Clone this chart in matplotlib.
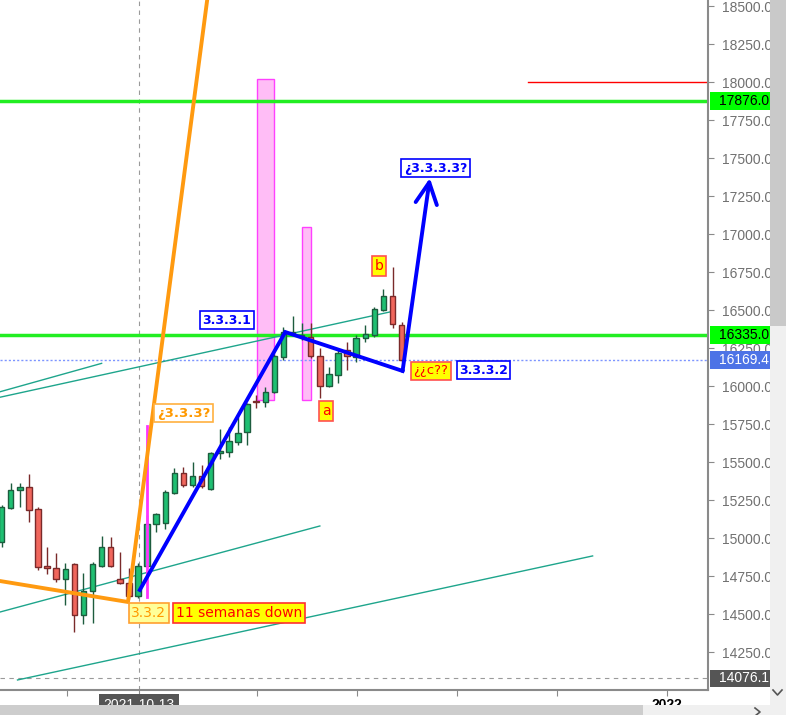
import numpy as np
import matplotlib.pyplot as plt
from matplotlib.patches import Rectangle
from matplotlib.lines import Line2D

# weekly candles
opens  = [14974, 15197, 15316, 15336, 15191, 14816, 14803, 14730, 14829, 14493,
          14651, 14816, 14941, 14730, 14704, 14618, 14816, 15092, 15099, 15296,
          15428, 15349, 15408, 15322, 15559, 15566, 15632, 15697, 15901, 15895,
          15961, 16191, 16349, 16329, 16322, 16197, 16000, 16072, 16237, 16191,
          16316, 16336, 16500, 16592, 16401]
highs  = [15217, 15362, 15362, 15421, 15204, 14941, 14901, 14836, 14836, 14770,
          14842, 15013, 15007, 14908, 14803, 14836, 15151, 15164, 15316, 15461,
          15467, 15500, 15480, 15566, 15717, 15730, 15796, 15888, 15941, 15993,
          16210, 16388, 16461, 16414, 16414, 16250, 16125, 16250, 16289, 16336,
          16401, 16520, 16638, 16783, 16421]
lows   = [14941, 15191, 15204, 15105, 14789, 14763, 14711, 14559, 14382, 14434,
          14441, 14809, 14809, 14697, 14599, 14605, 14809, 15039, 15059, 15289,
          15336, 15336, 15329, 15316, 15520, 15533, 15612, 15612, 15855, 15862,
          15954, 16171, 16336, 16303, 16184, 15921, 15993, 16020, 16105, 16158,
          16289, 16322, 16493, 16382, 16158]
closes = [15204, 15316, 15336, 15184, 14809, 14803, 14730, 14796, 14493, 14651,
          14829, 14941, 14816, 14704, 14618, 14816, 15092, 15158, 15303, 15428,
          15349, 15408, 15342, 15559, 15572, 15638, 15691, 15882, 15895, 15961,
          16197, 16355, 16355, 16336, 16197, 16000, 16079, 16217, 16197, 16316,
          16342, 16507, 16592, 16408, 16169.4]

# horizontal levels
green_levels = [17876.0, 16335.0]
last_price = 16169.4
low_level = 14076.1
red_level = 18000.0

# drawings (x = candle index, y = price)
orange_x = [-0.18, 13.9, 23.6]
orange_y = [14717, 14579, 18990]
blue_x = [15.2, 31.2, 44.1]
blue_y = [14658, 16355, 16099]
arrow_tip = (47.1, 17368)
teal_lines = [((-0.18, 15962), (11.0, 16149)),
              ((-0.18, 15926), (42.7, 16487)),
              ((-0.18, 14513), (35.0, 15079)),
              ((1.75, 14066), (65.0, 14882))]
pink_boxes = [(28.05, 30.0, 15908, 18020), (33.0, 34.0, 15908, 17046)]
magenta_line = (16.0, 14612, 15737)
red_start = 57.9
cross_x = 15.1

labels = [
    ("3.3.3.1", 24.8, 16434, "blue", "white", "blue", "bold", 9),
    ("¿3.3.3.3?", 47.7, 17431, "blue", "white", "blue", "bold", 9),
    ("3.3.3.2", 53.0, 16105, "blue", "white", "blue", "bold", 9),
    ("¿¿c??", 47.2, 16099, "red", "#ffff00", "#ff5050", "normal", 9.5),
    ("b", 41.5, 16789, "red", "#ffff00", "#ff5050", "normal", 10),
    ("a", 35.7, 15836, "red", "#ffff00", "#ff5050", "normal", 10),
    ("¿3.3.3?", 20.0, 15822, "#ff9900", "white", "#ffb040", "bold", 9.5),
    ("3.3.2", 16.2, 14507, "#ff9900", "#ffff99", "#ffa030", "normal", 10),
    ("11 semanas down", 26.1, 14507, "red", "#ffff00", "#ff3030", "normal", 10),
]

xtick_pos = [7.19, 15.1, 28.1, 39.1, 50.1, 61.1, 73.2]
yticks = np.arange(14250, 18501, 250)

W, H = 786, 715
fig = plt.figure(figsize=(W / 100, H / 100), dpi=100)
ax = fig.add_axes([0, 25 / H, 708 / W, 690 / H])
ax.set_xlim(-0.176, 77.69)
ax.set_ylim(14000, 18539.5)

# background drawings
for x0, x1, y0, y1 in pink_boxes:
    ax.add_patch(Rectangle((x0, y0), x1 - x0, y1 - y0, fc="#ffbdf6", ec="#ff40ff", lw=1, zorder=1))
ax.axvline(cross_x, color="#9a9a9a", lw=0.8, ls=(0, (4, 4)), zorder=1)
ax.axhline(low_level, color="#9a9a9a", lw=0.8, ls=(0, (4, 4)), zorder=1)
for lvl in green_levels:
    ax.axhline(lvl, color="#22ee22", lw=2.5, zorder=1.5)
ax.axhline(last_price, color="#7d95ff", lw=1, ls=(0, (1.5, 1.5)), zorder=1.5)
ax.plot([red_start, 77.69], [red_level, red_level], color="red", lw=1, zorder=1.5)
for (xa, ya), (xb, yb) in teal_lines:
    ax.plot([xa, xb], [ya, yb], color="#1ea58c", lw=1, zorder=1.6)

# candles
x = np.arange(len(opens))
o = np.array(opens); c = np.array(closes)
up = c >= o
body_lo = np.minimum(o, c)
body_h = np.maximum(np.abs(c - o), 8)
ax.vlines(x[up], np.array(lows)[up], np.array(highs)[up], color="#1d5c3e", lw=1, zorder=2)
ax.vlines(x[~up], np.array(lows)[~up], np.array(highs)[~up], color="#7a2a2a", lw=1, zorder=2)
ax.bar(x[up], body_h[up], bottom=body_lo[up], width=0.6, color="#1fbf72", edgecolor="#1d5c3e", lw=1, zorder=2.1)
ax.bar(x[~up], body_h[~up], bottom=body_lo[~up], width=0.6, color="#f0665c", edgecolor="#7a2a2a", lw=1, zorder=2.1)

# foreground drawings
ax.plot([magenta_line[0]] * 2, magenta_line[1:], color="#ff33ff", lw=2, zorder=2.5)
ax.plot(orange_x, orange_y, color="#ff9a10", lw=2.8, zorder=3, solid_capstyle="round")
ax.plot(blue_x, blue_y, color="#0000ff", lw=2.8, zorder=3, solid_joinstyle="miter")
ax.annotate("", xy=arrow_tip, xytext=(blue_x[-1], blue_y[-1]),
            arrowprops=dict(arrowstyle="->,head_length=0.7,head_width=0.35", color="#0000ff",
                            lw=2.8, shrinkA=0, shrinkB=0, mutation_scale=22), zorder=3)

for s, lx, ly, tc, fc, ec, wt, fs in labels:
    ax.text(lx, ly, s, color=tc, fontsize=fs, fontweight=wt, ha="center", va="center", zorder=6,
            bbox=dict(boxstyle="square,pad=0.2", fc=fc, ec=ec, lw=1.2))

# axes styling
for sp in ["left", "top"]:
    ax.spines[sp].set_visible(False)
for sp in ["right", "bottom"]:
    ax.spines[sp].set_color("#8a8a8a")
    ax.spines[sp].set_linewidth(1.5)
ax.yaxis.tick_right()
ax.set_yticks(yticks)
ax.set_yticklabels([f"{v:.1f}" for v in yticks], fontsize=10, family="Liberation Sans", color="#707070")
ax.tick_params(axis="y", length=4, color="#8a8a8a", pad=6)
ax.set_xticks(xtick_pos)
ax.set_xticklabels([])
ax.tick_params(axis="x", length=4, color="#8a8a8a")

# price boxes on the axis
yt = ax.get_yaxis_transform()
for val, fc, tc in [(green_levels[0], "#00ff00", "black"), (green_levels[1], "#00ff00", "black"),
                    (last_price, "#4d73e6", "white"), (low_level, "#555555", "white")]:
    ax.add_patch(Rectangle((1.003, val - 58), 0.12, 116, transform=yt, clip_on=False,
                           fc=fc, ec="none", zorder=4))
    ax.text(1 + 11 / 708, val, f"{val:.1f}", transform=yt, fontsize=10, family="Liberation Sans",
            color=tc, ha="left", va="center", clip_on=False, zorder=5)

# date labels under the axis (cut by the scrollbar)
xt = ax.get_xaxis_transform()
ax.text(cross_x, -8 / 690, "2021-10-13", transform=xt, fontsize=10, family="Liberation Sans",
        color="white", ha="center", va="top", clip_on=False, zorder=5,
        bbox=dict(boxstyle="square,pad=0.3", fc="#555555", ec="none"))
ax.text(xtick_pos[-1], -8 / 690, "2022", transform=xt, fontsize=10, family="Liberation Sans",
        fontweight="bold", color="black", ha="center", va="top", clip_on=False, zorder=5)

# scrollbars
def px_rect(x0, y0, x1, y1, color):
    fig.add_artist(Rectangle((x0 / W, 1 - y1 / H), (x1 - x0) / W, (y1 - y0) / H,
                             transform=fig.transFigure, fc=color, ec="none", zorder=10))

px_rect(770, 0, 786, 705, "#f0f0f0")
px_rect(770, 0, 786, 326, "#c9c9c9")
px_rect(0, 705, 786, 715, "#f0f0f0")
px_rect(0, 705, 643, 715, "#cdcdcd")
fig.add_artist(Line2D([773 / W, 777.5 / W, 782 / W], [1 - 690 / H, 1 - 695 / H, 1 - 690 / H],
                      transform=fig.transFigure, color="#555555", lw=1.2, zorder=11))
fig.add_artist(Line2D([755 / W, 760 / W, 755 / W], [1 - 708 / H, 1 - 712 / H, 1 - 716 / H],
                      transform=fig.transFigure, color="#555555", lw=1.2, zorder=11))

fig.savefig("out.png", dpi=100)
